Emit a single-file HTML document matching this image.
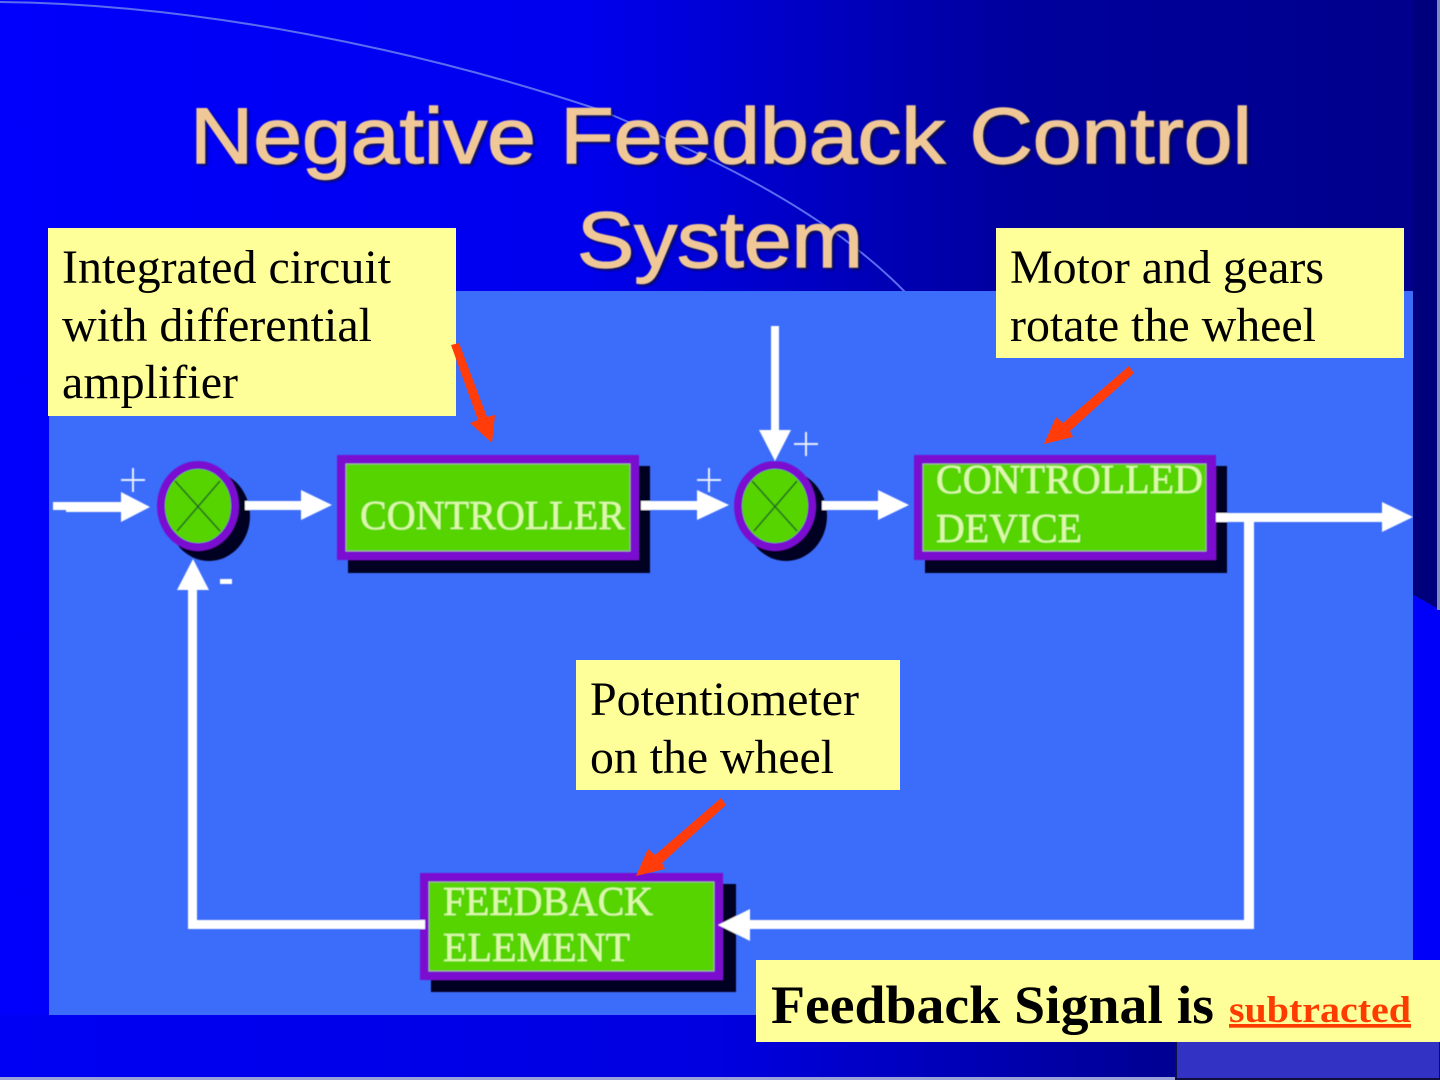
<!DOCTYPE html>
<html>
<head>
<meta charset="utf-8">
<style>
html,body{margin:0;padding:0;background:#0000e6;width:1440px;height:1080px;overflow:hidden}
svg{display:block}
.t{font-family:"Liberation Sans",sans-serif;font-size:79px;fill:#f0c898;stroke:#f0c898;stroke-width:1.4}
.ts{font-family:"Liberation Sans",sans-serif;font-size:79px;fill:#14102c;stroke:#14102c;stroke-width:1.4;opacity:.75}
.s{font-family:"Liberation Serif",serif;font-size:48px;fill:#000}
.b{font-family:"Liberation Serif",serif;font-size:41px;fill:#dcf8a8;stroke:#dcf8a8;stroke-width:.4}
</style>
</head>
<body>
<svg width="1440" height="1080" viewBox="0 0 1440 1080" xmlns="http://www.w3.org/2000/svg">
<defs>
<linearGradient id="bg" x1="0" y1="0" x2="1" y2="0">
<stop offset="0" stop-color="#0000fc"/><stop offset="0.4" stop-color="#0000ee"/><stop offset="0.7" stop-color="#00009e"/><stop offset="1" stop-color="#00008a"/>
</linearGradient>
<linearGradient id="bot" x1="0" y1="0" x2="1" y2="0">
<stop offset="0" stop-color="#0000f4"/><stop offset="0.5" stop-color="#0000e0"/><stop offset="0.82" stop-color="#000090"/>
</linearGradient>
<filter id="soft" x="-5%" y="-5%" width="110%" height="110%"><feGaussianBlur stdDeviation="0.6"/></filter>
<filter id="soft2" x="-5%" y="-5%" width="110%" height="110%"><feGaussianBlur stdDeviation="1.1"/></filter>
</defs>
<rect width="1440" height="1080" fill="url(#bg)"/>
<rect x="0" y="1015" width="1440" height="65" fill="url(#bot)"/>
<rect x="1413" y="0" width="27" height="610" fill="#00007c"/>
<polygon points="1412,594 1440,610 1440,1080 1412,1080" fill="#0000fa"/>
<rect x="1437" y="0" width="3" height="610" fill="#8088c0"/>
<path d="M0,2 C200,4 420,50 600,110 C720,160 830,215 905,292" fill="none" stroke="#5a6cf0" stroke-width="2"/>
<rect x="0" y="1077" width="1176" height="3" fill="#9aa0d8"/>
<rect x="1176" y="1040" width="264" height="39" fill="#3232c4" stroke="#101040" stroke-width="2"/>

<!-- title -->
<g filter="url(#soft2)">
<text class="ts" x="192" y="165" textLength="1062" lengthAdjust="spacingAndGlyphs">Negative Feedback Control</text>
<text class="ts" x="579" y="269" textLength="286" lengthAdjust="spacingAndGlyphs">System</text>
</g>
<g filter="url(#soft)">
<text class="t" x="190" y="163" textLength="1062" lengthAdjust="spacingAndGlyphs">Negative Feedback Control</text>
<text class="t" x="577" y="267" textLength="286" lengthAdjust="spacingAndGlyphs">System</text>
</g>

<!-- panel -->
<rect x="49" y="291" width="1364" height="724" fill="#3c6cfa"/>

<g filter="url(#soft)">
<!-- block shadows -->
<rect x="348" y="466" width="302" height="107" fill="#000020"/>
<rect x="925" y="466" width="302" height="107" fill="#000020"/>
<rect x="431" y="884" width="305" height="108" fill="#000020"/>
<ellipse cx="209" cy="516" rx="41" ry="45" fill="#000020"/>
<ellipse cx="786" cy="516" rx="41" ry="45" fill="#000020"/>

<!-- blocks -->
<rect x="337" y="455" width="302" height="105" fill="#7a10d0"/>
<rect x="346" y="464" width="284" height="87" fill="#55d400" stroke="#a0b090" stroke-width="1"/>
<rect x="914" y="455" width="302" height="105" fill="#7a10d0"/>
<rect x="923" y="464" width="283" height="87" fill="#55d400" stroke="#a0b090" stroke-width="1"/>
<rect x="420" y="873" width="303" height="107" fill="#7a10d0"/>
<rect x="429" y="882" width="285" height="89" fill="#55d400" stroke="#a0b090" stroke-width="1"/>

<text class="b" x="360" y="529" textLength="265" lengthAdjust="spacingAndGlyphs">CONTROLLER</text>
<text class="b" x="936" y="493" textLength="267" lengthAdjust="spacingAndGlyphs">CONTROLLED</text>
<text class="b" x="936" y="542" textLength="146" lengthAdjust="spacingAndGlyphs">DEVICE</text>
<text class="b" x="443" y="915" textLength="210" lengthAdjust="spacingAndGlyphs">FEEDBACK</text>
<text class="b" x="443" y="961" textLength="187" lengthAdjust="spacingAndGlyphs">ELEMENT</text>

<!-- summing junctions -->
<ellipse cx="198" cy="506" rx="37" ry="41" fill="#55d400" stroke="#7a10d0" stroke-width="8"/>
<path d="M175,481 L220,531 M220,481 L177,531" stroke="#206a20" stroke-width="1.6" fill="none"/>
<ellipse cx="775" cy="506" rx="37" ry="41" fill="#55d400" stroke="#7a10d0" stroke-width="8"/>
<path d="M752,481 L797,531 M797,481 L754,531" stroke="#206a20" stroke-width="1.6" fill="none"/>

<!-- white connectors -->
<g fill="#fff">
<rect x="53" y="502" width="70" height="8"/><rect x="66" y="505" width="60" height="7"/>
<polygon points="121,492 150,507 121,522"/>
<rect x="245" y="501" width="60" height="9"/>
<polygon points="301,490 332,505 301,520"/>
<rect x="641" y="501" width="60" height="9"/>
<polygon points="697,490 729,505 697,520"/>
<rect x="822" y="501" width="60" height="9"/>
<polygon points="878,490 909,505 878,520"/>
<rect x="1216" y="513" width="172" height="9"/>
<polygon points="1382,502 1413,517 1382,532"/>
<rect x="771" y="326" width="8" height="106"/>
<polygon points="759,430 791,430 775,461"/>
<rect x="1244" y="522" width="10" height="407"/>
<rect x="745" y="920" width="509" height="9"/>
<polygon points="750,909 750,941 718,925"/>
<rect x="188" y="920" width="237" height="9"/>
<rect x="188" y="590" width="9" height="339"/>
<polygon points="177,590 209,590 193,559"/>
<rect x="220" y="579" width="12" height="5"/>
</g>
<path d="M121,480 H145 M133,468 V492" stroke="#e8f0ff" stroke-width="2" fill="none"/>
<path d="M697,480 H721 M709,468 V492" stroke="#e8f0ff" stroke-width="2" fill="none"/>
<path d="M794,444 H818 M806,432 V456" stroke="#e8f0ff" stroke-width="2" fill="none"/>
</g>

<!-- yellow callouts -->
<rect x="48" y="228" width="408" height="188" fill="#ffff99"/>
<text class="s" x="62" y="283" textLength="329" lengthAdjust="spacingAndGlyphs">Integrated circuit</text>
<text class="s" x="62" y="341" textLength="310" lengthAdjust="spacingAndGlyphs">with differential</text>
<text class="s" x="62" y="398" textLength="176" lengthAdjust="spacingAndGlyphs">amplifier</text>

<rect x="996" y="228" width="408" height="130" fill="#ffff99"/>
<text class="s" x="1010" y="283" textLength="314" lengthAdjust="spacingAndGlyphs">Motor and gears</text>
<text class="s" x="1010" y="341" textLength="306" lengthAdjust="spacingAndGlyphs">rotate the wheel</text>

<rect x="576" y="660" width="324" height="130" fill="#ffff99"/>
<text class="s" x="590" y="715" textLength="269" lengthAdjust="spacingAndGlyphs">Potentiometer</text>
<text class="s" x="590" y="773" textLength="244" lengthAdjust="spacingAndGlyphs">on the wheel</text>

<rect x="756" y="960" width="684" height="82" fill="#ffff99"/>
<text x="771" y="1023" style="font-family:'Liberation Serif',serif;font-weight:bold;font-size:54px" fill="#000" textLength="443" lengthAdjust="spacingAndGlyphs">Feedback Signal is</text>
<text x="1229" y="1022" style="font-family:'Liberation Serif',serif;font-weight:bold;font-size:37px" fill="#ff3c00" text-decoration="underline" textLength="182" lengthAdjust="spacingAndGlyphs">subtracted</text>

<!-- red arrows -->
<g fill="#ff3c0a" stroke="none">
<polygon points="451,345 459,343 487,417 495,415 492,443 470,423 478,420"/>
<polygon points="1129,366 1134,373 1070,431 1073,437 1044,444 1056,417 1063,423"/>
<polygon points="721,798 726,805 662,863 665,869 636,876 648,849 655,855"/>
</g>
</svg>
</body>
</html>
